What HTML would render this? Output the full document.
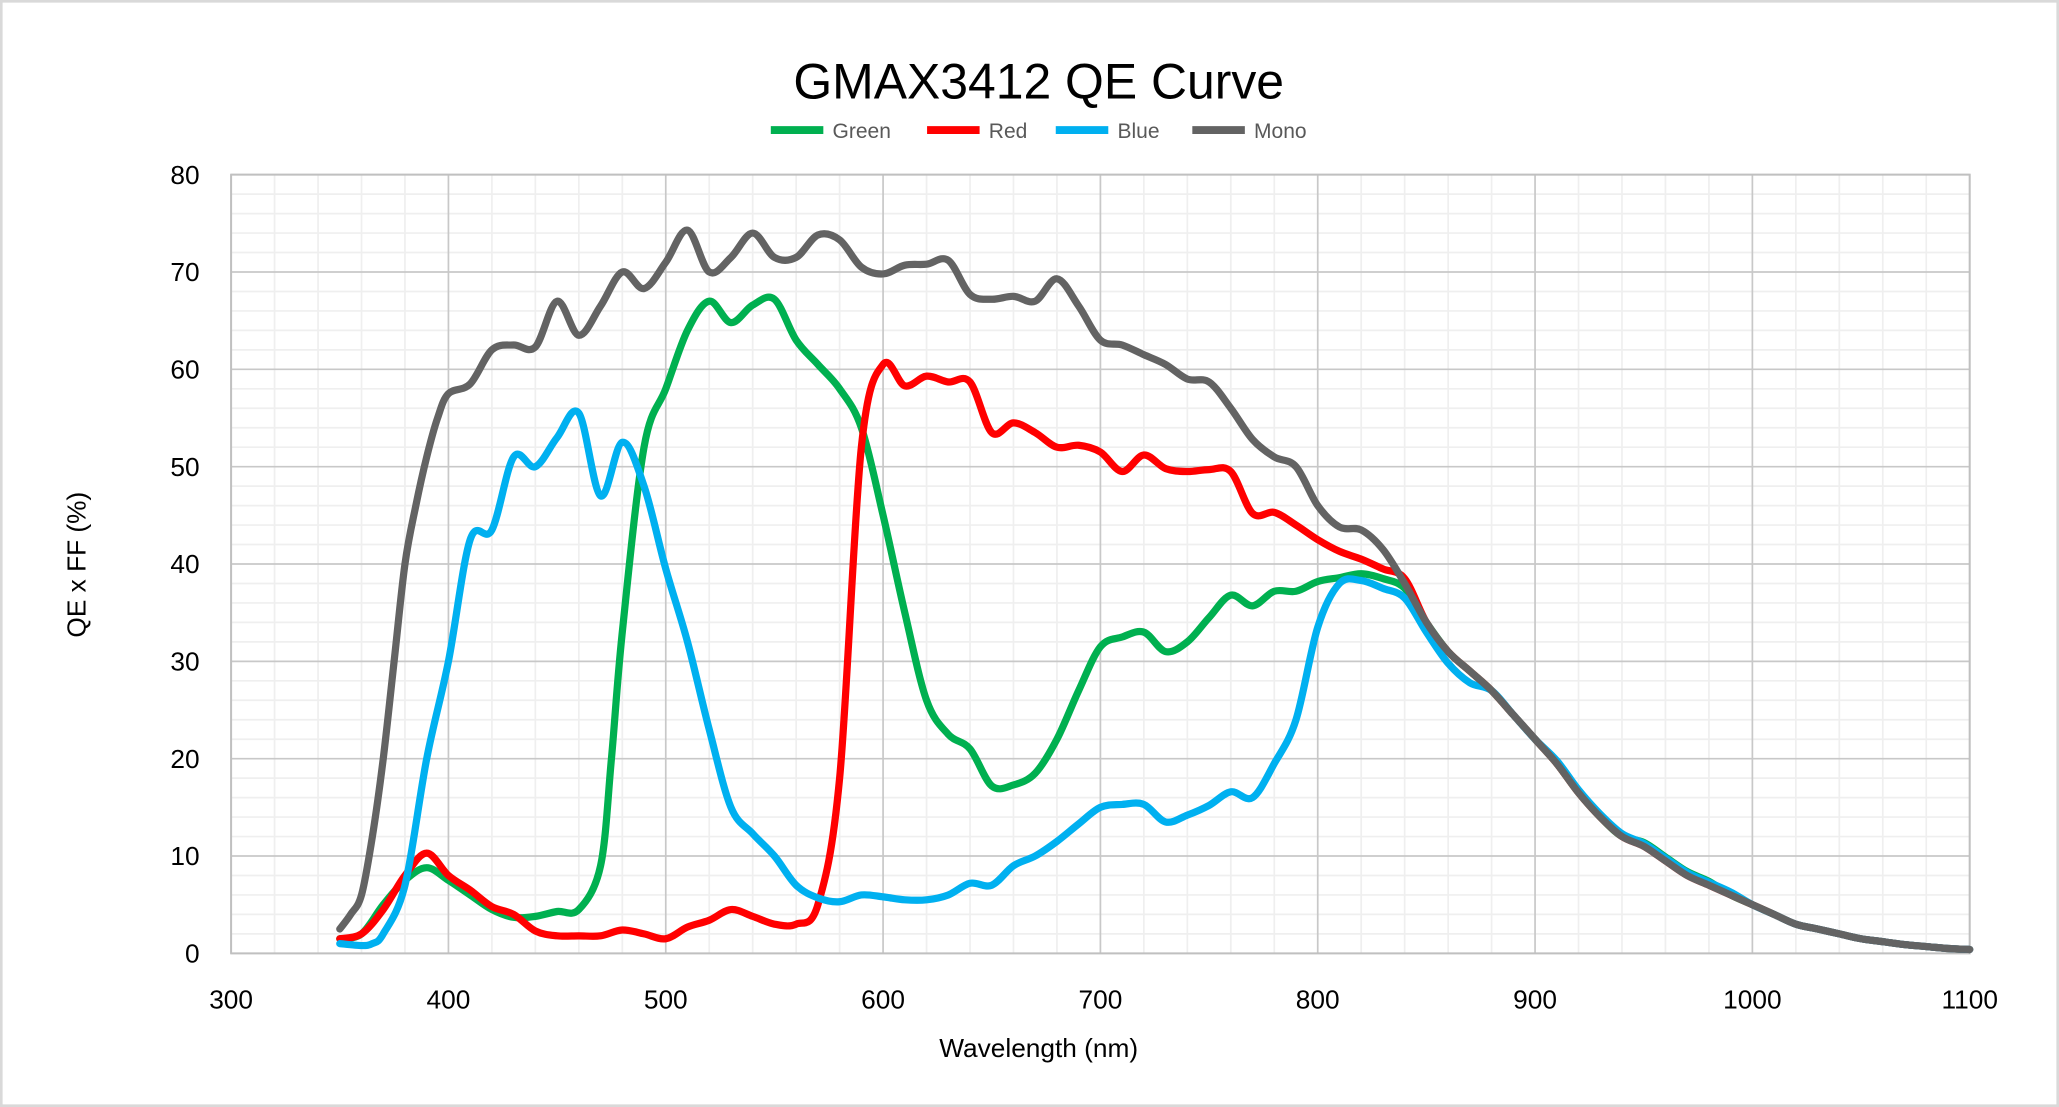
<!DOCTYPE html>
<html><head><meta charset="utf-8"><style>
html,body{margin:0;padding:0;background:#fff;}
svg{display:block;}
text{font-family:"Liberation Sans","DejaVu Sans",sans-serif;}
</style></head><body>
<svg id="s" width="2059" height="1107" viewBox="0 0 1568 843" xmlns="http://www.w3.org/2000/svg">
<rect x="1" y="1" width="1566" height="841" fill="#fff" stroke="#d9d9d9" stroke-width="2"/>
<g id="grid"></g>
<g id="series" fill="none" stroke-linejoin="round" stroke-linecap="round"></g>
<text x="791" y="75" font-size="38" text-anchor="middle" fill="#000">GMAX3412  QE  Curve</text>
<g font-size="16" fill="#595959">
<line x1="587" y1="99" x2="627" y2="99" stroke="#00b050" stroke-width="6"/><text x="634" y="105">Green</text>
<line x1="706" y1="99" x2="746" y2="99" stroke="#ff0000" stroke-width="6"/><text x="753" y="105">Red</text>
<line x1="804" y1="99" x2="844" y2="99" stroke="#00b0f0" stroke-width="6"/><text x="851" y="105">Blue</text>
<line x1="908" y1="99" x2="948" y2="99" stroke="#636363" stroke-width="6"/><text x="955" y="105">Mono</text>
</g>
<g id="labels" font-size="20" fill="#000"></g>
<text x="791" y="805" font-size="20" text-anchor="middle">Wavelength (nm)</text>
<text transform="translate(65,430) rotate(-90)" font-size="20" text-anchor="middle">QE x FF (%)</text>
</svg>
<script>
const NS="http://www.w3.org/2000/svg";
const X=nm=>176+(nm-300)*1.655, Y=v=>726-v*7.4125;
function el(p,t,a,txt){const e=document.createElementNS(NS,t);for(const k in a)e.setAttribute(k,a[k]);if(txt!=null)e.textContent=txt;p.appendChild(e);return e;}
const g=document.getElementById('grid'),L=document.getElementById('labels'),S=document.getElementById('series');
for(let nm=300;nm<=1100;nm+=20){if(nm%100)el(g,'line',{x1:X(nm),x2:X(nm),y1:Y(0),y2:Y(80),stroke:'#efefef','stroke-width':1.3});}
for(let v=0;v<=80;v+=2){if(v%10)el(g,'line',{x1:X(300),x2:X(1100),y1:Y(v),y2:Y(v),stroke:'#efefef','stroke-width':1.3});}
for(let nm=300;nm<=1100;nm+=100){el(g,'line',{x1:X(nm),x2:X(nm),y1:Y(0),y2:Y(80),stroke:'#c8c8c8','stroke-width':1.3});el(L,'text',{x:X(nm),y:768,'text-anchor':'middle'},nm);}
for(let v=0;v<=80;v+=10){el(g,'line',{x1:X(300),x2:X(1100),y1:Y(v),y2:Y(v),stroke:'#c8c8c8','stroke-width':1.3});el(L,'text',{x:152,y:Y(v)+7,'text-anchor':'end'},v);}
el(g,'rect',{x:X(300),y:Y(80),width:X(1100)-X(300),height:Y(0)-Y(80),fill:'none',stroke:'#c0c0c0','stroke-width':1.5});
const tail=[[850,34],[860,31],[870,29],[880,27],[890,24.5],[900,22],[910,19.5],[920,16.5],[930,14],[940,12],[950,11],[960,9.5],[970,8],[980,7],[990,6],[1000,5],[1010,4],[1020,3],[1030,2.5],[1040,2],[1050,1.5],[1060,1.2],[1070,0.9],[1080,0.7],[1090,0.5],[1100,0.4]];
const mono=[[350,2.5],[355,4],[360,6],[365,12],[370,20],[375,30],[380,40],[385,46],[390,51],[395,55],[400,57.5],[410,58.5],[420,62],[430,62.5],[440,62.3],[450,67],[460,63.5],[470,66.5],[480,70],[490,68.3],[500,71],[510,74.3],[520,70],[530,71.5],[540,74],[550,71.5],[560,71.5],[570,73.8],[580,73.3],[590,70.5],[600,69.8],[610,70.7],[620,70.8],[630,71.2],[640,67.7],[650,67.2],[660,67.5],[670,67],[680,69.3],[690,66.5],[700,63],[710,62.5],[720,61.5],[730,60.5],[740,59],[750,58.7],[760,56],[770,52.8],[780,51],[790,50],[800,46],[810,43.8],[820,43.5],[830,41.5],[840,38]].concat(tail);
const green=[[350,1.5],[360,2],[370,5],[380,7.5],[390,8.8],[400,7.5],[410,6],[420,4.5],[430,3.7],[440,3.8],[450,4.3],[460,4.5],[470,9],[475,20],[480,33],[490,52],[500,58],[510,64],[520,67],[530,64.8],[540,66.6],[550,67.2],[560,63],[570,60.5],[580,58],[590,54],[600,45],[610,35],[620,26],[630,22.5],[640,21],[650,17.2],[660,17.3],[670,18.5],[680,22],[690,27],[700,31.5],[710,32.5],[720,33],[730,31],[740,32],[750,34.5],[760,36.8],[770,35.7],[780,37.2],[790,37.2],[800,38.2],[810,38.6],[820,39],[830,38.5],[840,37.5]].concat(tail.map(p=>[p[0],p[1]+(p[0]>940&&p[0]<990?0.4:0)]));
const red=[[350,1.5],[360,2],[370,4.5],[380,8],[390,10.3],[400,8],[410,6.5],[420,4.8],[430,4],[440,2.3],[450,1.8],[460,1.8],[470,1.8],[480,2.4],[490,2],[500,1.5],[510,2.7],[520,3.4],[530,4.5],[540,3.8],[550,3],[560,3],[570,5],[580,18],[590,52],[600,60.5],[610,58.3],[620,59.3],[630,58.7],[640,58.7],[650,53.5],[660,54.5],[670,53.5],[680,52],[690,52.2],[700,51.5],[710,49.5],[720,51.2],[730,49.8],[740,49.5],[750,49.7],[760,49.5],[770,45.2],[780,45.3],[790,44],[800,42.5],[810,41.3],[820,40.5],[830,39.5],[840,38.5]].concat(tail);
const blue=[[350,1],[360,0.8],[365,1],[370,2],[380,7],[390,20],[400,30],[410,42.5],[420,43.5],[430,51],[440,50],[450,53],[460,55.5],[470,47],[480,52.5],[490,48],[500,39.5],[510,32],[520,23],[530,15],[540,12.3],[550,10],[560,7],[570,5.7],[580,5.3],[590,6],[600,5.8],[610,5.5],[620,5.5],[630,6],[640,7.2],[650,7],[660,9],[670,10],[680,11.5],[690,13.3],[700,15],[710,15.3],[720,15.3],[730,13.5],[740,14.2],[750,15.2],[760,16.6],[770,16],[780,19.5],[790,24],[800,33.5],[810,38],[820,38.3],[830,37.5],[840,36.5],[850,33],[860,29.8],[870,27.8]].concat(tail.slice(3).map(p=>[p[0],p[1]+(p[0]>900&&p[0]<1000?0.3:0)]));
function path(d){const p=d.map(a=>[X(a[0]),Y(a[1])]);let s=`M${p[0][0]},${p[0][1]}`;
for(let i=0;i<p.length-1;i++){const p0=p[i-1]||p[i],p1=p[i],p2=p[i+1],p3=p[i+2]||p2;const t=6;
s+=` C${p1[0]+(p2[0]-p0[0])/t},${p1[1]+(p2[1]-p0[1])/t} ${p2[0]-(p3[0]-p1[0])/t},${p2[1]-(p3[1]-p1[1])/t} ${p2[0]},${p2[1]}`;}return s;}
[[green,'#00b050'],[red,'#ff0000'],[blue,'#00b0f0'],[mono,'#636363']].forEach(([d,c])=>el(S,'path',{d:path(d),stroke:c,'stroke-width':5.5}));
</script>
</body></html>
